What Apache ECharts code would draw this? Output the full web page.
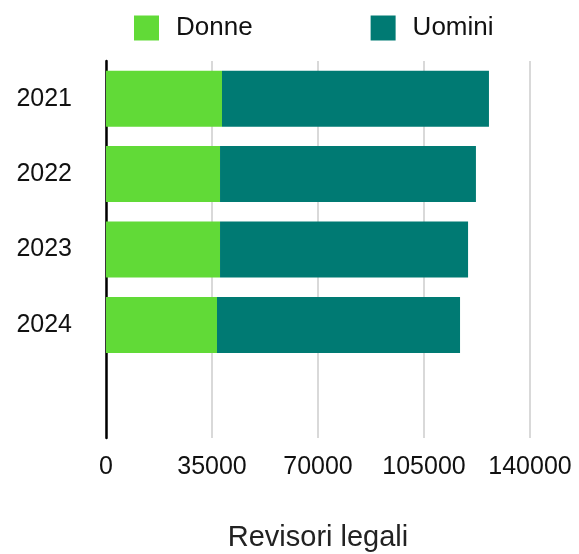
<!DOCTYPE html>
<html>
<head>
<meta charset="utf-8">
<script src="https://cdn.jsdelivr.net/npm/echarts@6/dist/echarts.min.js"></script>
<style>
html,body{margin:0;padding:0;background:#fff;}
#chart{width:579px;height:554px;}
</style>
</head>
<body>
<div id="chart"></div>
<script>
const categories = ['2021', '2022', '2023', '2024', ''];
const donne = [38300, 37650, 37650, 36650, null];
const uomini = [88150, 84500, 81900, 80250, null];
const xTicks = [0, 35000, 70000, 105000, 140000];
const seriesNames = ['Donne', 'Uomini'];
const axisTitle = 'Revisori legali';

const FONT = 'Liberation Sans, Arial, Helvetica, sans-serif';
const chart = echarts.init(document.getElementById('chart'), null, {renderer: 'canvas'});
chart.setOption({
  animation: false,
  backgroundColor: '#ffffff',
  legend: {
    data: seriesNames,
    left: 129,
    top: 10,
    itemWidth: 25,
    itemHeight: 25,
    itemGap: 118,
    icon: 'rect',
    textStyle: {fontFamily: FONT, fontSize: 26, color: '#111', padding: [0, 0, 0, 12]}
  },
  grid: {left: 106, right: 49, top: 61, bottom: 116, containLabel: false, outerBoundsMode: 'none'},
  xAxis: {
    type: 'value',
    min: xTicks[0],
    max: xTicks[xTicks.length - 1],
    interval: xTicks[1] - xTicks[0],
    axisLine: {show: false},
    axisTick: {show: false},
    splitLine: {show: true, lineStyle: {color: '#cccccc', width: 1.5}},
    axisLabel: {fontFamily: FONT, fontSize: 25, color: '#111', margin: 17,
                formatter: function (v) { return String(v); }},
    name: axisTitle,
    nameLocation: 'middle',
    nameGap: 85,
    nameTextStyle: {fontFamily: FONT, fontSize: 29, color: '#222'}
  },
  yAxis: {
    type: 'category',
    data: categories,
    inverse: true,
    axisLine: {show: true, lineStyle: {color: '#000', width: 2.5}},
    axisTick: {show: false},
    axisLabel: {fontFamily: FONT, fontSize: 25, color: '#111', margin: 34},
    splitLine: {show: false}
  },
  series: [
    {name: seriesNames[0], type: 'bar', stack: 'tot', data: donne, barWidth: 56,
     itemStyle: {color: '#61DA37'}},
    {name: seriesNames[1], type: 'bar', stack: 'tot', data: uomini, barWidth: 56,
     itemStyle: {color: '#007A73'}}
  ]
});
</script>
</body>
</html>
